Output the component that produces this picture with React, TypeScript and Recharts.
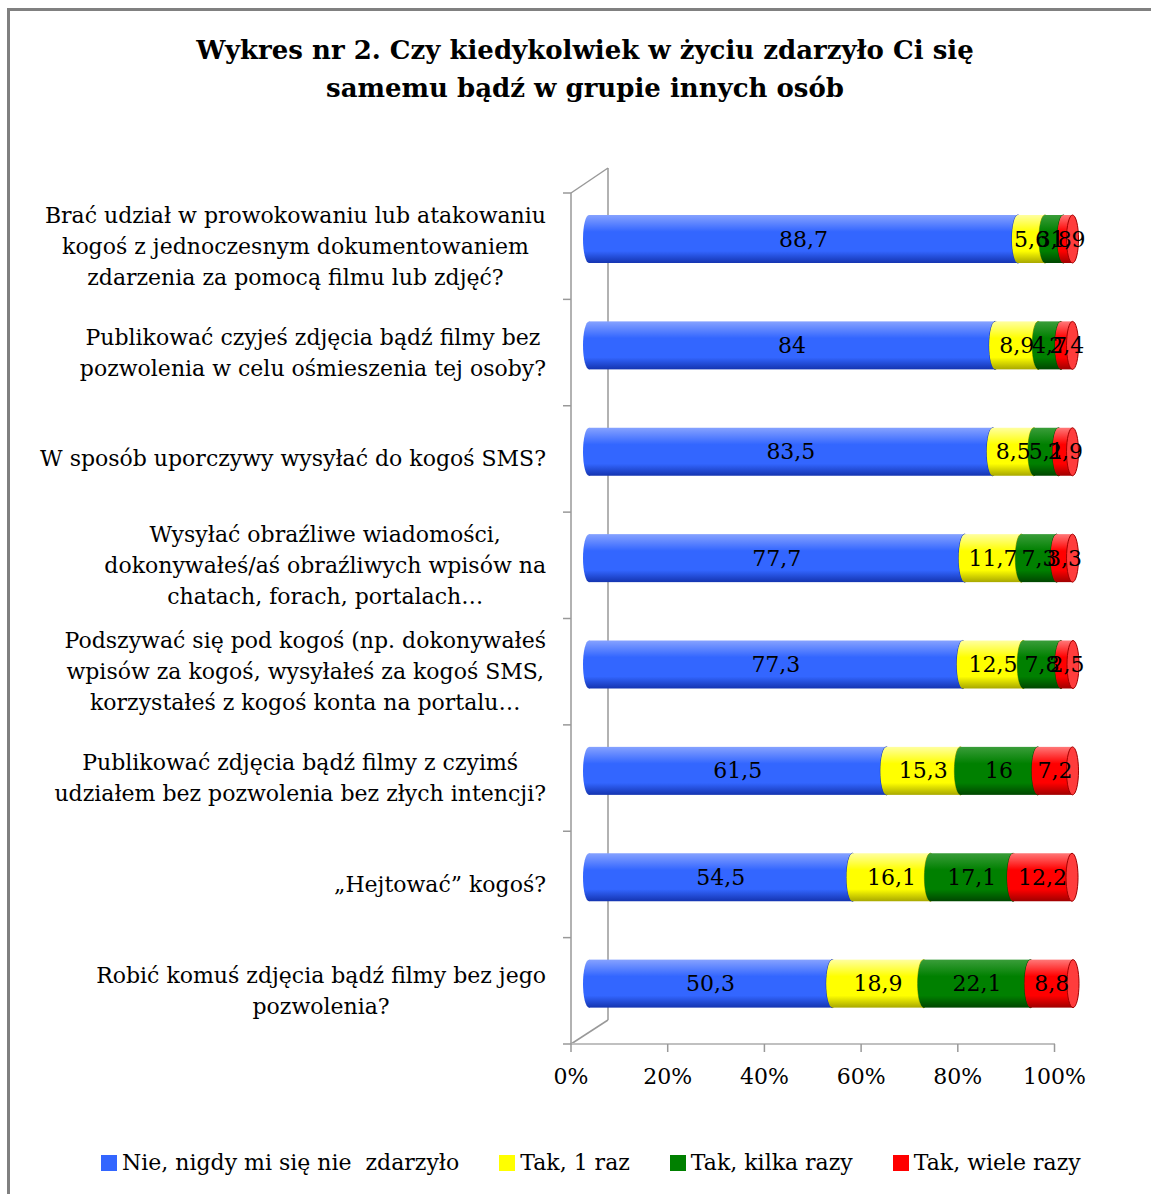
import React from "react";
import { BarChart, Bar, XAxis, YAxis, LabelList } from "recharts";

// category labels, "|" marks a line break
const categories = [
  "Brać udział w prowokowaniu lub atakowaniu|kogoś z jednoczesnym dokumentowaniem|zdarzenia za pomocą filmu lub zdjęć?",
  "Publikować czyjeś zdjęcia bądź filmy bez|pozwolenia w celu ośmieszenia tej osoby?",
  "W sposób uporczywy wysyłać do kogoś SMS?",
  "Wysyłać obraźliwe wiadomości,|dokonywałeś/aś obraźliwych wpisów na|chatach, forach, portalach…",
  "Podszywać się pod kogoś (np. dokonywałeś|wpisów za kogoś, wysyłałeś za kogoś SMS,|korzystałeś z kogoś konta na portalu…",
  "Publikować zdjęcia bądź filmy z czyimś|udziałem bez pozwolenia bez złych intencji?",
  "„Hejtować” kogoś?",
  "Robić komuś zdjęcia bądź filmy bez jego|pozwolenia?",
];

const never = [88.7, 84, 83.5, 77.7, 77.3, 61.5, 54.5, 50.3];
const once = [5.6, 8.9, 8.5, 11.7, 12.5, 15.3, 16.1, 18.9];
const several = [3.8, 4.7, 5.1, 7.3, 7.8, 16, 17.1, 22.1];
const many = [1.9, 2.4, 2.9, 3.3, 2.5, 7.2, 12.2, 8.8];

const seriesNames = [
  "Nie, nigdy mi się nie  zdarzyło",
  "Tak, 1 raz",
  "Tak, kilka razy",
  "Tak, wiele razy",
];
const xTicks = [0, 20, 40, 60, 80, 100];

const data = categories.map((name, i) => ({
  name,
  never: never[i],
  once: once[i],
  several: several[i],
  many: many[i],
}));

const W = 1151;
const H = 1194;
const PLOT_LEFT = 571;
const PLOT_RIGHT = 1055;
const PLOT_TOP = 193;
const PLOT_BOTTOM = 1044;
const BAND = (PLOT_BOTTOM - PLOT_TOP) / categories.length;
// 3d depth offset of the bars
const DX = 18;
const DY = -7;
const FONT = "'DejaVu Serif', serif";

const palette = [
  { key: "never", top: "#86a2ff", mid: "#3366ff", bot: "#1434b0", cap: "#5a82ff" },
  { key: "once", top: "#ffffa0", mid: "#ffff00", bot: "#a8a800", cap: "#ffff4d" },
  { key: "several", top: "#3a9d3a", mid: "#008000", bot: "#004600", cap: "#1a901a" },
  { key: "many", top: "#ff7878", mid: "#ff0000", bot: "#a00000", cap: "#ff3c3c" },
];

let ctx: CanvasRenderingContext2D | null = null;
const textWidth = (s: string, font: string) => {
  if (!ctx) ctx = document.createElement("canvas").getContext("2d");
  if (!ctx) return s.length * 10;
  ctx.font = font;
  return ctx.measureText(s).width;
};

const Cylinder = (props: any) => {
  const { x, y, width, height, gid, cap, bot } = props;
  if (!width || width <= 0) return null;
  const bx = x + DX;
  const by = y + DY;
  const rx = 6;
  const ry = height / 2;
  return (
    <g>
      <ellipse cx={bx} cy={by + ry} rx={rx} ry={ry} fill={`url(#${gid})`} />
      <rect x={bx} y={by} width={width} height={height} fill={`url(#${gid})`} />
      <ellipse cx={bx + width} cy={by + ry} rx={rx} ry={ry} fill={cap} stroke={bot} strokeWidth={1} />
    </g>
  );
};

const SegLabel = (props: any) => {
  const { x, y, width, height, value } = props;
  return (
    <text
      x={x + width / 2 + DX}
      y={y + height / 2 + DY}
      textAnchor="middle"
      dominantBaseline="central"
      fontFamily={FONT}
      fontSize={22}
      fill="#000"
    >
      {String(value).replace(".", ",")}
    </text>
  );
};

const CategoryTick = (props: any) => {
  const { y, payload, index } = props;
  const lines: string[] = String(payload.value).split("|");
  const fs = 22;
  const font = `${fs}px ${FONT}`;
  const maxW = Math.max(...lines.map((l) => textWidth(l, font)));
  const cx = PLOT_LEFT - 25 - maxW / 2;
  const lh = 31;
  return (
    <g>
      <line x1={PLOT_LEFT - 8} x2={PLOT_LEFT} y1={y - BAND / 2} y2={y - BAND / 2} stroke="#999" strokeWidth={1.5} />
      {index === categories.length - 1 && (
        <line x1={PLOT_LEFT - 8} x2={PLOT_LEFT} y1={y + BAND / 2} y2={y + BAND / 2} stroke="#999" strokeWidth={1.5} />
      )}
      {lines.map((l, i) => (
        <text
          key={i}
          x={cx}
          y={y + (i - (lines.length - 1) / 2) * lh}
          textAnchor="middle"
          dominantBaseline="central"
          fontFamily={FONT}
          fontSize={fs}
          fill="#000"
        >
          {l}
        </text>
      ))}
    </g>
  );
};

export default function App() {
  return (
    <div style={{ position: "absolute", left: 0, top: 0, width: W, height: H, background: "#fff", overflow: "hidden", fontFamily: FONT }}>
      <div style={{ position: "absolute", left: 7, top: 8, width: W + 20, height: H + 20, border: "3px solid #808080" }} />
      <div style={{ position: "absolute", left: 0, top: 31, width: 1170, textAlign: "center", fontWeight: "bold", fontSize: 26, lineHeight: "38px" }}>
        Wykres nr 2. Czy kiedykolwiek w życiu zdarzyło Ci się
        <br />
        samemu bądź w grupie innych osób
      </div>
      {/* back wall of the 3d plot */}
      <svg style={{ position: "absolute", left: 0, top: 0 }} width={W} height={H}>
        <g stroke="#999" strokeWidth={1.5} fill="none">
          <line x1={PLOT_LEFT} y1={PLOT_TOP} x2={PLOT_LEFT + 37} y2={PLOT_TOP - 25} />
          <line x1={PLOT_LEFT + 37} y1={PLOT_TOP - 25} x2={PLOT_LEFT + 37} y2={PLOT_BOTTOM - 24} />
          <line x1={PLOT_LEFT} y1={PLOT_BOTTOM} x2={PLOT_LEFT + 37} y2={PLOT_BOTTOM - 24} />
        </g>
      </svg>
      <div style={{ position: "absolute", left: 0, top: 0 }}>
        <BarChart
          width={W}
          height={H}
          data={data}
          layout="vertical"
          barSize={48}
          margin={{ top: PLOT_TOP, right: W - PLOT_RIGHT, left: 0, bottom: H - PLOT_BOTTOM - 50 }}
        >
          <defs>
            {palette.map((p) => (
              <linearGradient key={p.key} id={`g-${p.key}`} x1="0" y1="0" x2="0" y2="1">
                <stop offset="0%" stopColor={p.top} />
                <stop offset="35%" stopColor={p.mid} />
                <stop offset="75%" stopColor={p.mid} />
                <stop offset="100%" stopColor={p.bot} />
              </linearGradient>
            ))}
          </defs>
          <XAxis
            type="number"
            domain={[0, 100]}
            ticks={xTicks}
            tickFormatter={(v) => `${v}%`}
            axisLine={{ stroke: "#c0c0c0", strokeWidth: 2 }}
            tickLine={{ stroke: "#999", strokeWidth: 1.5 }}
            tickSize={8}
            tickMargin={16}
            height={50}
            tick={{ fontFamily: FONT, fontSize: 22, fill: "#000" }}
          />
          <YAxis
            type="category"
            dataKey="name"
            width={PLOT_LEFT}
            axisLine={{ stroke: "#999", strokeWidth: 1.5 }}
            tickLine={false}
            interval={0}
            tick={<CategoryTick />}
          />
          {palette.map((p, i) => (
            <Bar
              key={p.key}
              dataKey={p.key}
              name={seriesNames[i]}
              stackId="a"
              fill={p.mid}
              isAnimationActive={false}
              shape={(sp: any) => <Cylinder {...sp} gid={`g-${p.key}`} cap={p.cap} bot={p.bot} />}
            >
              <LabelList dataKey={p.key} content={<SegLabel />} />
            </Bar>
          ))}
        </BarChart>
      </div>
      {/* legend */}
      <div style={{ position: "absolute", left: 101, top: 1150, display: "flex", alignItems: "center", fontSize: 22, whiteSpace: "pre" }}>
        {palette.map((p, i) => (
          <div key={p.key} style={{ display: "flex", alignItems: "center", marginRight: 40 }}>
            <span style={{ display: "inline-block", width: 16, height: 16, background: p.mid, marginRight: 5 }} />
            <span>{seriesNames[i]}</span>
          </div>
        ))}
      </div>
    </div>
  );
}
